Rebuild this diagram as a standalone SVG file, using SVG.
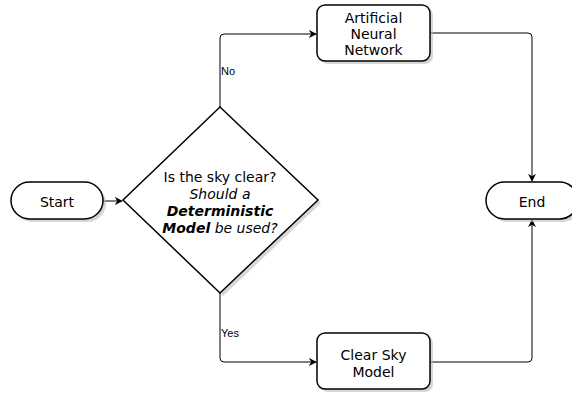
<svg xmlns="http://www.w3.org/2000/svg" width="572" height="393" viewBox="0 0 572 393">
  <style>
    .shape { fill: #ffffff; stroke: #000000; stroke-width: 1.5; }
    .shadow { fill: #bbbbbb; opacity: 0.6; }
    .edge { fill: none; stroke: #000000; stroke-width: 1; }
    .lbl { font-family: "DejaVu Sans", Verdana, sans-serif; font-size: 14px; fill: #000000; text-anchor: middle; }
    .edge-lbl { font-family: "Liberation Sans", Arial, sans-serif; font-size: 11px; fill: #000000; }
  </style>
  <defs>
    <marker id="arrow" viewBox="0 0 10 10" refX="9" refY="5" markerWidth="8" markerHeight="8" markerUnits="userSpaceOnUse" orient="auto">
      <path d="M0,0 L10,5 L0,10 L3,5 Z" fill="#000000"/>
    </marker>
  </defs>
  <rect width="572" height="393" fill="#ffffff"/>

  <!-- connectors -->
  <g id="edges">
    <path class="edge" d="M103,201 H122" marker-end="url(#arrow)"/>
    <path class="edge" d="M220,107 V38 Q220,34 224,34 H316" marker-end="url(#arrow)"/>
    <path class="edge" d="M220,293 V358 Q220,362 224,362 H316" marker-end="url(#arrow)"/>
    <path class="edge" d="M430,33 H528 Q532,33 532,37 V181" marker-end="url(#arrow)"/>
    <path class="edge" d="M430,362 H528 Q532,362 532,358 V220" marker-end="url(#arrow)"/>
    <text class="edge-lbl" x="221" y="75">No</text>
    <text class="edge-lbl" x="221" y="337">Yes</text>
  </g>

  <g id="start">
    <rect class="shadow" x="14" y="185" width="92" height="37" rx="18.5"/>
    <rect class="shape" x="11" y="182" width="92" height="37" rx="18.5"/>
    <text class="lbl" x="57" y="207">Start</text>
  </g>

  <g id="decision">
    <polygon class="shadow" points="223,110 321,203 223,296 126,203"/>
    <polygon class="shape" points="220,107 318,200 220,293 123,200"/>
    <text class="lbl" x="220" y="182">Is the sky clear?</text>
    <text class="lbl" x="220" y="199" font-style="italic">Should a</text>
    <text class="lbl" x="220" y="216" font-style="italic" font-weight="bold">Deterministic</text>
    <text class="lbl" x="220" y="233" font-style="italic"><tspan font-weight="bold">Model</tspan> be used?</text>
  </g>

  <g id="ann">
    <rect class="shadow" x="320" y="8" width="113" height="56" rx="8"/>
    <rect class="shape" x="317" y="5" width="113" height="56" rx="8"/>
    <text class="lbl" x="373.5" y="23">Artificial</text>
    <text class="lbl" x="373.5" y="39">Neural</text>
    <text class="lbl" x="373.5" y="55">Network</text>
  </g>

  <g id="clearsky">
    <rect class="shadow" x="320" y="336" width="113" height="56" rx="8"/>
    <rect class="shape" x="317" y="333" width="113" height="56" rx="8"/>
    <text class="lbl" x="373.5" y="360">Clear Sky</text>
    <text class="lbl" x="373.5" y="377">Model</text>
  </g>

  <g id="end">
    <rect class="shadow" x="489" y="185" width="92" height="37" rx="18.5"/>
    <rect class="shape" x="486" y="182" width="92" height="37" rx="18.5"/>
    <text class="lbl" x="532" y="207">End</text>
  </g>
</svg>
